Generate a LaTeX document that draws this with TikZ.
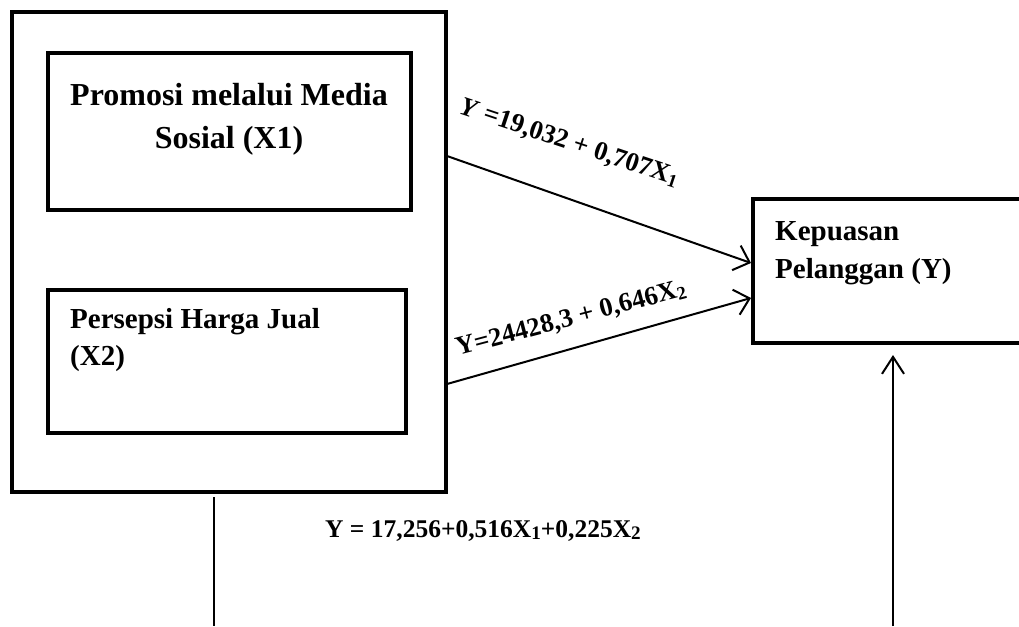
\documentclass[tikz,border=0pt]{standalone}
\usepackage{fontspec}
\setmainfont{Liberation Serif}
\usetikzlibrary{arrows.meta}
\newcommand{\subnum}[2][0.7]{\raisebox{-0.22ex}{\scalebox{#1}{#2}}}
\begin{document}
\begin{tikzpicture}[x=1pt,y=-1pt,
  box/.style={draw=black, line width=4pt, rectangle, anchor=north west, inner sep=0pt, outer sep=0pt},
  lbl/.style={font=\bfseries, inner sep=0pt, anchor=base west},
  link/.style={draw=black, line width=2pt, -{Straight Barb[length=14pt,width=26pt,line width=2pt]}},
  uplink/.style={draw=black, line width=2pt, -{Straight Barb[length=17pt,width=22pt,line width=2pt]}}]
\clip (0,0) rectangle (1019,626);
\fill[white] (0,0) rectangle (1019,626);

% boxes
\node[box, minimum width=434pt, minimum height=480pt] (outer) at (12,12) {};
\node[box, minimum width=363pt, minimum height=157pt] (x1) at (48,53) {};
\node[box, minimum width=358pt, minimum height=143pt] (x2) at (48,290) {};
\node[box, minimum width=290pt, minimum height=144pt] (y) at (753,199) {};

% box texts
\node[lbl, anchor=base, font=\fontsize{32}{36}\selectfont\bfseries] (x1a) at (229,105) {Promosi melalui Media};
\node[lbl, anchor=base, font=\fontsize{32}{36}\selectfont\bfseries] (x1b) at (229,148) {Sosial (X1)};
\node[lbl, font=\fontsize{29}{34}\selectfont\bfseries] (x2a) at (70,328) {Persepsi Harga Jual};
\node[lbl, font=\fontsize{29}{34}\selectfont\bfseries] (x2b) at (70,365) {(X2)};
\node[lbl, font=\fontsize{29}{34}\selectfont\bfseries] (ya) at (775,240) {Kepuasan};
\node[lbl, font=\fontsize{29}{34}\selectfont\bfseries] (yb) at (775,278) {Pelanggan (Y)};

% connector ends
\coordinate (s1) at (447,156);
\coordinate (e1) at (751,263);
\coordinate (s2) at (447,384);
\coordinate (e2) at (751,298);
\coordinate (lb) at (214,626);
\coordinate (rb) at (893,626);
\coordinate (rt) at (893,355);

\draw[link] (s1) -- (e1);
\draw[link] (s2) -- (e2);
\draw[line width=1.6pt] (outer.south -| lb) ++(0,5) -- (lb);
\draw[uplink] (rb) -- (rt);

% regression equations
\node[lbl, rotate=-18.5, font=\fontsize{26.5}{30}\selectfont\bfseries] (eq1) at (458,113)
  {\textit{Y} =19,032 + 0,707X\subnum{1}};
\node[lbl, rotate=14.8, font=\fontsize{26.5}{30}\selectfont\bfseries] (eq2) at (458,356)
  {Y=24428,3 + 0,646X\subnum{2}};
\node[lbl, font=\fontsize{25.5}{30}\selectfont\bfseries] (eq3) at (325,537)
  {Y = 17,256+0,516X\subnum[0.75]{1}+0,225X\subnum[0.75]{2}};
\end{tikzpicture}
\end{document}
